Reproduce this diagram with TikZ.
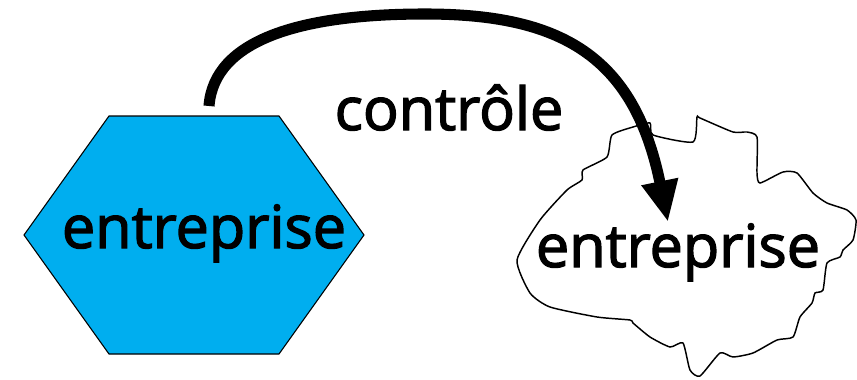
\documentclass[tikz,border=0pt]{standalone}
\usepackage{fontspec}
\newfontfamily\firmfont{Open Sans}[FakeBold=2.2]
\usepackage{tikz}
\usetikzlibrary{arrows.meta}
\definecolor{firmBlue}{HTML}{00AEEF}

\begin{document}
\begin{tikzpicture}[x=0.75pt, y=-0.75pt, >={Triangle[length=31pt, width=26pt]},
    bigtext/.style={font=\firmfont\fontsize{44.5}{50}\selectfont, inner sep=0pt, anchor=base}]
	\useasboundingbox (0,0) rectangle (857,379);

	% Entreprise (hexagone)
	\draw[fill=firmBlue, line width=0.8pt] (24,235) -- (109,116) -- (279,116) -- (364,235) -- (279,354) -- (109,354) -- cycle;
	\node[bigtext] (ent1) at (204,248) {entreprise};

	% Entreprise (nuage)
	\draw[line width=1.1pt] plot[smooth cycle, tension=0.35] coordinates {
		(517,260) (540,220) (567,190) (582,180) (583,170) (607,157) (612,135)
		(633,127) (650,123) (653,135) (693,142) (697,117) (700,118) (733,132)
		(747,132) (757,137) (757,173) (760,183) (783,172) (797,173) (813,193)
		(827,203) (847,210) (856,220) (853,240) (843,250) (840,257) (827,263)
		(823,290) (815,293) (812,303) (800,317) (793,337) (777,340) (753,353)
		(733,357) (720,353) (700,376) (690,370) (683,343) (670,347) (650,337)
		(633,323) (630,320) (597,317) (550,307) (530,293)};
	\node[bigtext] (ent2) at (678,267) {entreprise};

	% Contrôle
	\coordinate (src) at (209,106);
	\coordinate (top) at (425,14);
	\coordinate (tip) at (668,222);
	\draw[->, line width=8.3pt] (src) .. controls (214,40) and (300,14) .. (top)
		.. controls (560,14) and (634,55) .. (tip);
	\node[bigtext] (ctrl) at (449,130) {contrôle};
\end{tikzpicture}
\end{document}
